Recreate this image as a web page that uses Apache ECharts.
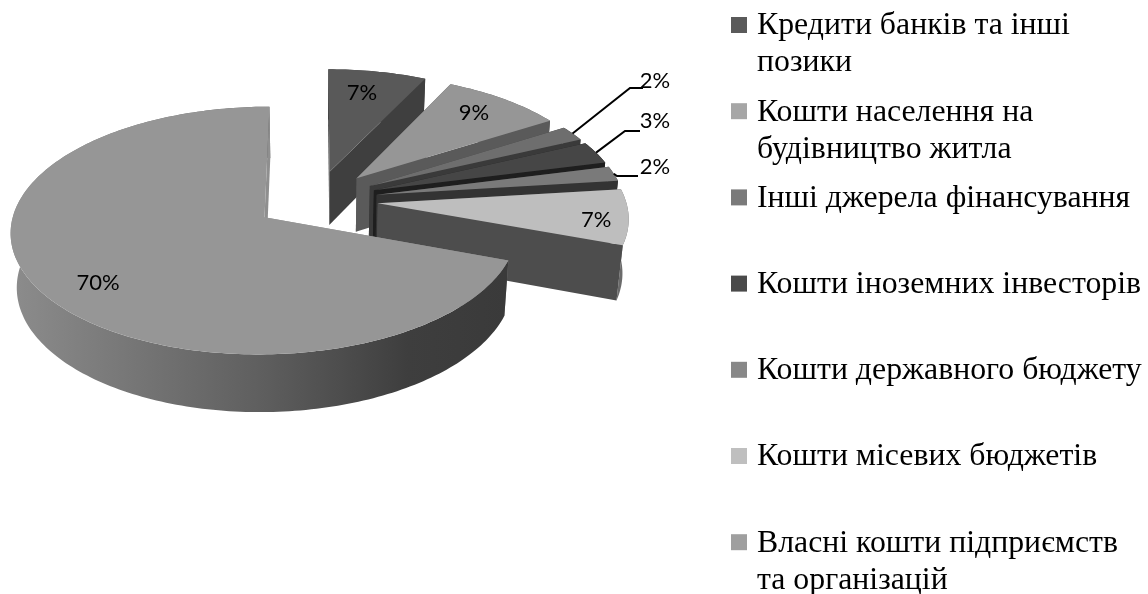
<!DOCTYPE html>
<html>
<head>
<meta charset="utf-8">
<style>html,body{margin:0;padding:0;background:#fff}#chart{width:1148px;height:594px}</style>
<script src="https://cdn.jsdelivr.net/npm/echarts@6/dist/echarts.min.js"></script>
</head>
<body>
<div id="chart"></div>
<script>
// data, clockwise from 12 o'clock
var categories = [
  'Кредити банків та інші\nпозики',
  'Кошти населення на\nбудівництво житла',
  'Інші джерела фінансування',
  'Кошти іноземних інвесторів',
  'Кошти державного бюджету',
  'Кошти місевих бюджетів',
  'Власні кошти підприємств\nта організацій'
];
var shares = [7.2, 8.9, 2, 3, 2, 7.4, 69.5];

// colours
var legendColors = ['#5a5a5a', '#a6a6a6', '#7a7a7a', '#4a4a4a', '#888888', '#bfbfbf', '#9f9f9f'];
var topColors = ['#595959', '#969696', '#6e6e6e', '#464646', '#7a7a7a', '#bebebe', '#969696'];
var wallColors = ['#3f3f3f', '#5a5a5a', '#3a3a3a', '#1e1e1e', '#333333', '#4d4d4d', '#8f8f8f'];
var rimColors = ['#3f3f3f', '#5a5a5a', '#3a3a3a', '#1e1e1e', '#333333', '#6b6b6b', null];

// label placement: fraction of radius for inside labels plus a nudge, screen spot for the outside ones
var labelRadius = [0.78, 0.8, 0, 0, 0, 0.88, 0.78];
var labelNudge = [[-6, 1], [-3, -1], [0, 0], [0, 0], [0, 0], [-2, 5], [5, 8]];
var outsideLabels = {
  2: {x: 655, y: 81, lineY: 88, elbowX: 630, endX: 643},
  3: {x: 655, y: 121, lineY: 131, elbowX: 625, endX: 640},
  4: {x: 655, y: 167, lineY: 176, elbowX: 617, endX: 638}
};

// perspective projection of the pie
var cx = 316, cy = 200, scaleX = 248, scaleY = 118.8, tilt = 0.105, depth = 55, shrink = 0.02, explode = 0.25;

function project(u, v, z) {
  var w = 1 + tilt * v + shrink * z;
  return [cx + scaleX * u / w, cy + (-scaleY * v + depth * z) / w];
}

var total = 0;
for (var i = 0; i < shares.length; i++) total += shares[i];

function sliceAngles(index) {
  var sum = 0;
  for (var i = 0; i < index; i++) sum += shares[i];
  var a0 = sum / total * Math.PI * 2;
  var a1 = (sum + shares[index]) / total * Math.PI * 2;
  return [a0, a1];
}

function apexOf(index) {
  var a = sliceAngles(index);
  var mid = (a[0] + a[1]) / 2;
  return [explode * Math.sin(mid), explode * Math.cos(mid)];
}

function rimPoint(index, angle, z, r) {
  var ap = apexOf(index);
  return project(ap[0] + (r == null ? 1 : r) * Math.sin(angle), ap[1] + (r == null ? 1 : r) * Math.cos(angle), z);
}

function arc(index, a0, a1, z) {
  var pts = [];
  var steps = Math.max(2, Math.ceil((a1 - a0) / 0.02));
  for (var s = 0; s <= steps; s++) {
    pts.push(rimPoint(index, a0 + (a1 - a0) * s / steps, z));
  }
  return pts;
}

function poly(points, fill) {
  return {type: 'polygon', shape: {points: points}, style: {fill: fill}};
}

function renderSlice(params, api) {
  var i = params.dataIndex;
  var a = sliceAngles(i);
  var apTop = rimPoint(i, 0, 0, 0), apBot = rimPoint(i, 0, 1, 0);
  var wall = function (angle) {
    return poly([apTop, rimPoint(i, angle, 0), rimPoint(i, angle, 1), apBot], wallColors[i]);
  };
  var rimFill = rimColors[i] || new echarts.graphic.LinearGradient(12, 0, 507, 0, [
    {offset: 0, color: '#8c8c8c'},
    {offset: 0.5, color: '#5f5f5f'},
    {offset: 0.8, color: '#3e3e3e'},
    {offset: 1, color: '#3a3a3a'}
  ], true);
  var upper = arc(i, a[0], a[1], 0);
  var lower = arc(i, a[0], a[1], 1).reverse();
  return {
    type: 'group',
    children: [
      wall(a[0]),
      poly(upper.concat(lower), rimFill),
      wall(a[1]),
      poly([apTop].concat(upper), topColors[i])
    ]
  };
}

function renderLabel(params, api) {
  var i = params.dataIndex;
  var text = Math.round(api.value(0)) + '%';
  var font = {fontFamily: 'Lato', fontSize: 22, fill: '#000', align: 'center', verticalAlign: 'middle'};
  var a = sliceAngles(i);
  var mid = (a[0] + a[1]) / 2;
  var out = outsideLabels[i];
  if (out) {
    var start = rimPoint(i, mid, 0);
    return {
      type: 'group',
      children: [
        {type: 'polyline', shape: {points: [start, [out.elbowX, out.lineY], [out.endX, out.lineY]]}, style: {fill: 'none', stroke: '#000', lineWidth: 2}},
        {type: 'text', style: Object.assign({x: out.x, y: out.y, text: text}, font)}
      ]
    };
  }
  var p = rimPoint(i, mid, 0, labelRadius[i]);
  return {type: 'text', style: Object.assign({x: p[0] + labelNudge[i][0], y: p[1] + labelNudge[i][1], text: text}, font)};
}

// legend
var legendX = 731, legendTextX = 757, legendTop = 25, legendStep = 86.2, markerSize = 16, lineH = 37;
var legendGraphics = [];
for (var k = 0; k < categories.length; k++) {
  var my = legendTop + k * legendStep;
  legendGraphics.push({
    type: 'rect', left: legendX, top: my - markerSize / 2,
    shape: {width: markerSize, height: markerSize}, style: {fill: legendColors[k]}, silent: true
  });
  legendGraphics.push({
    type: 'text', left: legendTextX, top: my - lineH / 2 + 1, silent: true,
    style: {text: categories[k], fontFamily: 'Liberation Serif', fontSize: 31.8, lineHeight: lineH, fill: '#000'}
  });
}

var chart = echarts.init(document.getElementById('chart'), null, {renderer: 'canvas'});
chart.setOption({
  backgroundColor: '#ffffff',
  animation: false,
  graphic: legendGraphics,
  series: [
    {type: 'custom', coordinateSystem: 'none', silent: true, clip: false, data: shares.map(function (v) { return [v]; }), renderItem: renderSlice},
    {type: 'custom', coordinateSystem: 'none', silent: true, clip: false, z: 5, data: shares.map(function (v) { return [v]; }), renderItem: renderLabel}
  ]
});
</script>
</body>
</html>
